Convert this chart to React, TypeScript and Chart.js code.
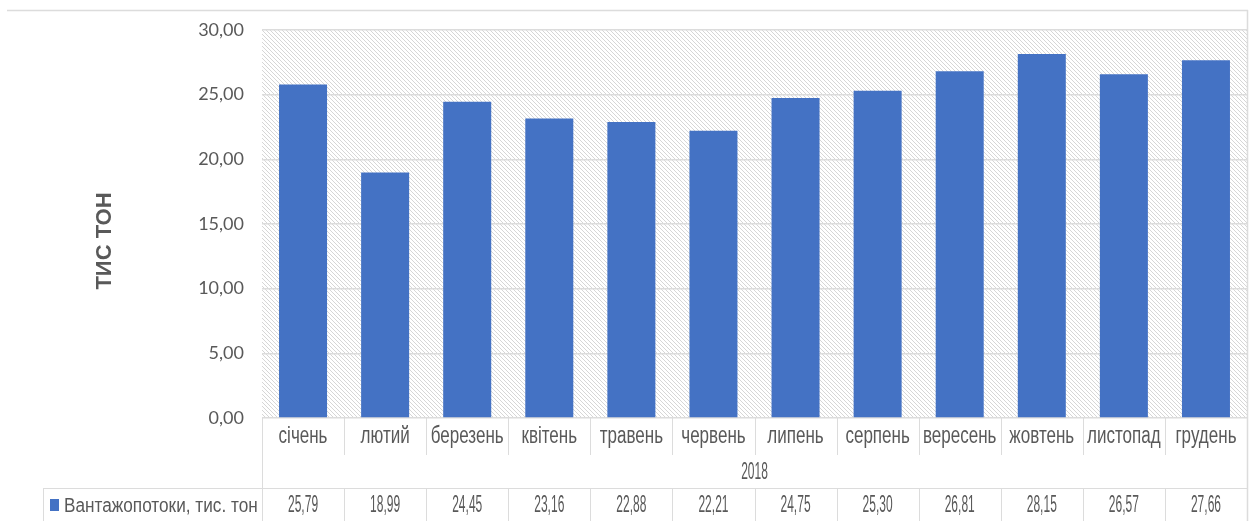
import React, { useEffect, useRef } from 'react';
import { Chart, registerables } from 'chart.js';

Chart.register(...registerables);

const months = ['січень', 'лютий', 'березень', 'квітень', 'травень', 'червень', 'липень', 'серпень', 'вересень', 'жовтень', 'листопад', 'грудень'];
const values = [25.79, 18.99, 24.45, 23.16, 22.88, 22.21, 24.75, 25.3, 26.81, 28.15, 26.57, 27.66];
const yearLabel = '2018';
const seriesName = 'Вантажопотоки, тис. тон';
const axisTitle = 'ТИС ТОН';
const yMin = 0;
const yMax = 30;
const yStep = 5;

const BAR = '#4472C4';
const GRID = '#dcdcdc';
const TEXT = '#595959';
const SANS = '"Liberation Sans", Arial, sans-serif';

const fmt = (v: number) => v.toFixed(2).replace('.', ',');

function squeeze(ctx: CanvasRenderingContext2D, text: string, x: number, y: number, sx: number) {
  ctx.save();
  ctx.translate(x, y);
  ctx.scale(sx, 1);
  ctx.fillText(text, 0, 0);
  ctx.restore();
}

const backgroundPlugin = {
  id: 'hatchBg',
  beforeDraw(chart: any) {
    const { ctx, chartArea, width, height } = chart;
    const { left, top, right, bottom } = chartArea;
    ctx.save();
    ctx.fillStyle = '#ffffff';
    ctx.fillRect(0, 0, width, height);
    ctx.beginPath();
    ctx.rect(left, top, right - left, bottom - top);
    ctx.clip();
    ctx.strokeStyle = '#d6d6d6';
    ctx.lineWidth = 1;
    const h = bottom - top;
    ctx.beginPath();
    for (let x = left - h; x < right + 4; x += 4) {
      ctx.moveTo(x, top);
      ctx.lineTo(x + h, top + h);
    }
    ctx.stroke();
    ctx.restore();
  },
};

const tablePlugin = {
  id: 'dataTable',
  afterDraw(chart: any) {
    const { ctx, chartArea } = chart;
    const { left, right, bottom } = chartArea;
    const n = months.length;
    const w = (right - left) / n;
    const rowCat = bottom;
    const rowYear = bottom + 37;
    const rowData = bottom + 70;
    const end = chart.height;
    ctx.save();
    ctx.strokeStyle = GRID;
    ctx.lineWidth = 1.5;
    ctx.beginPath();
    ctx.moveTo(7, 10.5);
    ctx.lineTo(right + 1, 10.5);
    ctx.moveTo(right + 0.5, 10);
    ctx.lineTo(right + 0.5, end);
    ctx.stroke();
    ctx.lineWidth = 1;
    ctx.beginPath();
    ctx.moveTo(left + 0.5, rowCat);
    ctx.lineTo(left + 0.5, end);
    ctx.moveTo(43, rowData + 0.5);
    ctx.lineTo(right, rowData + 0.5);
    ctx.moveTo(43.5, rowData);
    ctx.lineTo(43.5, end);
    for (let i = 1; i < n; i++) {
      const x = Math.round(left + i * w) + 0.5;
      ctx.moveTo(x, rowCat);
      ctx.lineTo(x, rowYear);
      ctx.moveTo(x, rowData);
      ctx.lineTo(x, end);
    }
    ctx.stroke();

    ctx.fillStyle = TEXT;
    ctx.textAlign = 'center';
    ctx.textBaseline = 'middle';
    ctx.font = '23px ' + SANS;
    for (let i = 0; i < n; i++) {
      squeeze(ctx, months[i], left + (i + 0.5) * w, rowCat + 19, 0.74);
    }
    ctx.font = '24px ' + SANS;
    squeeze(ctx, yearLabel, (left + right) / 2, rowYear + 17, 0.5);
    for (let i = 0; i < n; i++) {
      squeeze(ctx, fmt(values[i]), left + (i + 0.5) * w, rowData + 17, 0.5);
    }
    ctx.fillStyle = BAR;
    ctx.fillRect(50, rowData + 11, 9, 12);
    ctx.fillStyle = TEXT;
    ctx.textAlign = 'left';
    ctx.font = '20px ' + SANS;
    squeeze(ctx, seriesName, 64, rowData + 18, 0.86);
    ctx.save();
    ctx.translate(105, 241);
    ctx.rotate(-Math.PI / 2);
    ctx.textAlign = 'center';
    ctx.font = 'bold 22px ' + SANS;
    ctx.fillText(axisTitle, 0, 0);
    ctx.restore();
    ctx.restore();
  },
};

export default function App() {
  const ref = useRef<HTMLCanvasElement | null>(null);
  useEffect(() => {
    if (!ref.current) return;
    const chart = new Chart(ref.current, {
      type: 'bar',
      data: {
        labels: months,
        datasets: [
          {
            label: seriesName,
            data: values,
            backgroundColor: BAR,
            borderWidth: 0,
            barPercentage: 0.585,
            categoryPercentage: 1,
          },
        ],
      },
      options: {
        animation: false,
        responsive: false,
        devicePixelRatio: 1,
        layout: { padding: { left: 0, right: 5, top: 30, bottom: 103 } },
        plugins: { legend: { display: false }, tooltip: { enabled: false } },
        scales: {
          x: { display: false },
          y: {
            min: yMin,
            max: yMax,
            border: { display: false },
            grid: { color: GRID, lineWidth: 1.5, drawTicks: false },
            ticks: {
              stepSize: yStep,
              padding: 18,
              color: TEXT,
              font: { family: 'Lato, "Open Sans", sans-serif', size: 18 },
              callback: (v: any) => fmt(Number(v)),
            },
            afterFit: (scale: any) => {
              scale.width = 262;
            },
          },
        },
      },
      plugins: [backgroundPlugin, tablePlugin],
    } as any);
    return () => chart.destroy();
  }, []);
  return (
    <div style={{ position: 'absolute', left: 0, top: 0, width: 1252, height: 521 }}>
      <canvas ref={ref} width={1252} height={521} style={{ display: 'block' }} />
    </div>
  );
}
